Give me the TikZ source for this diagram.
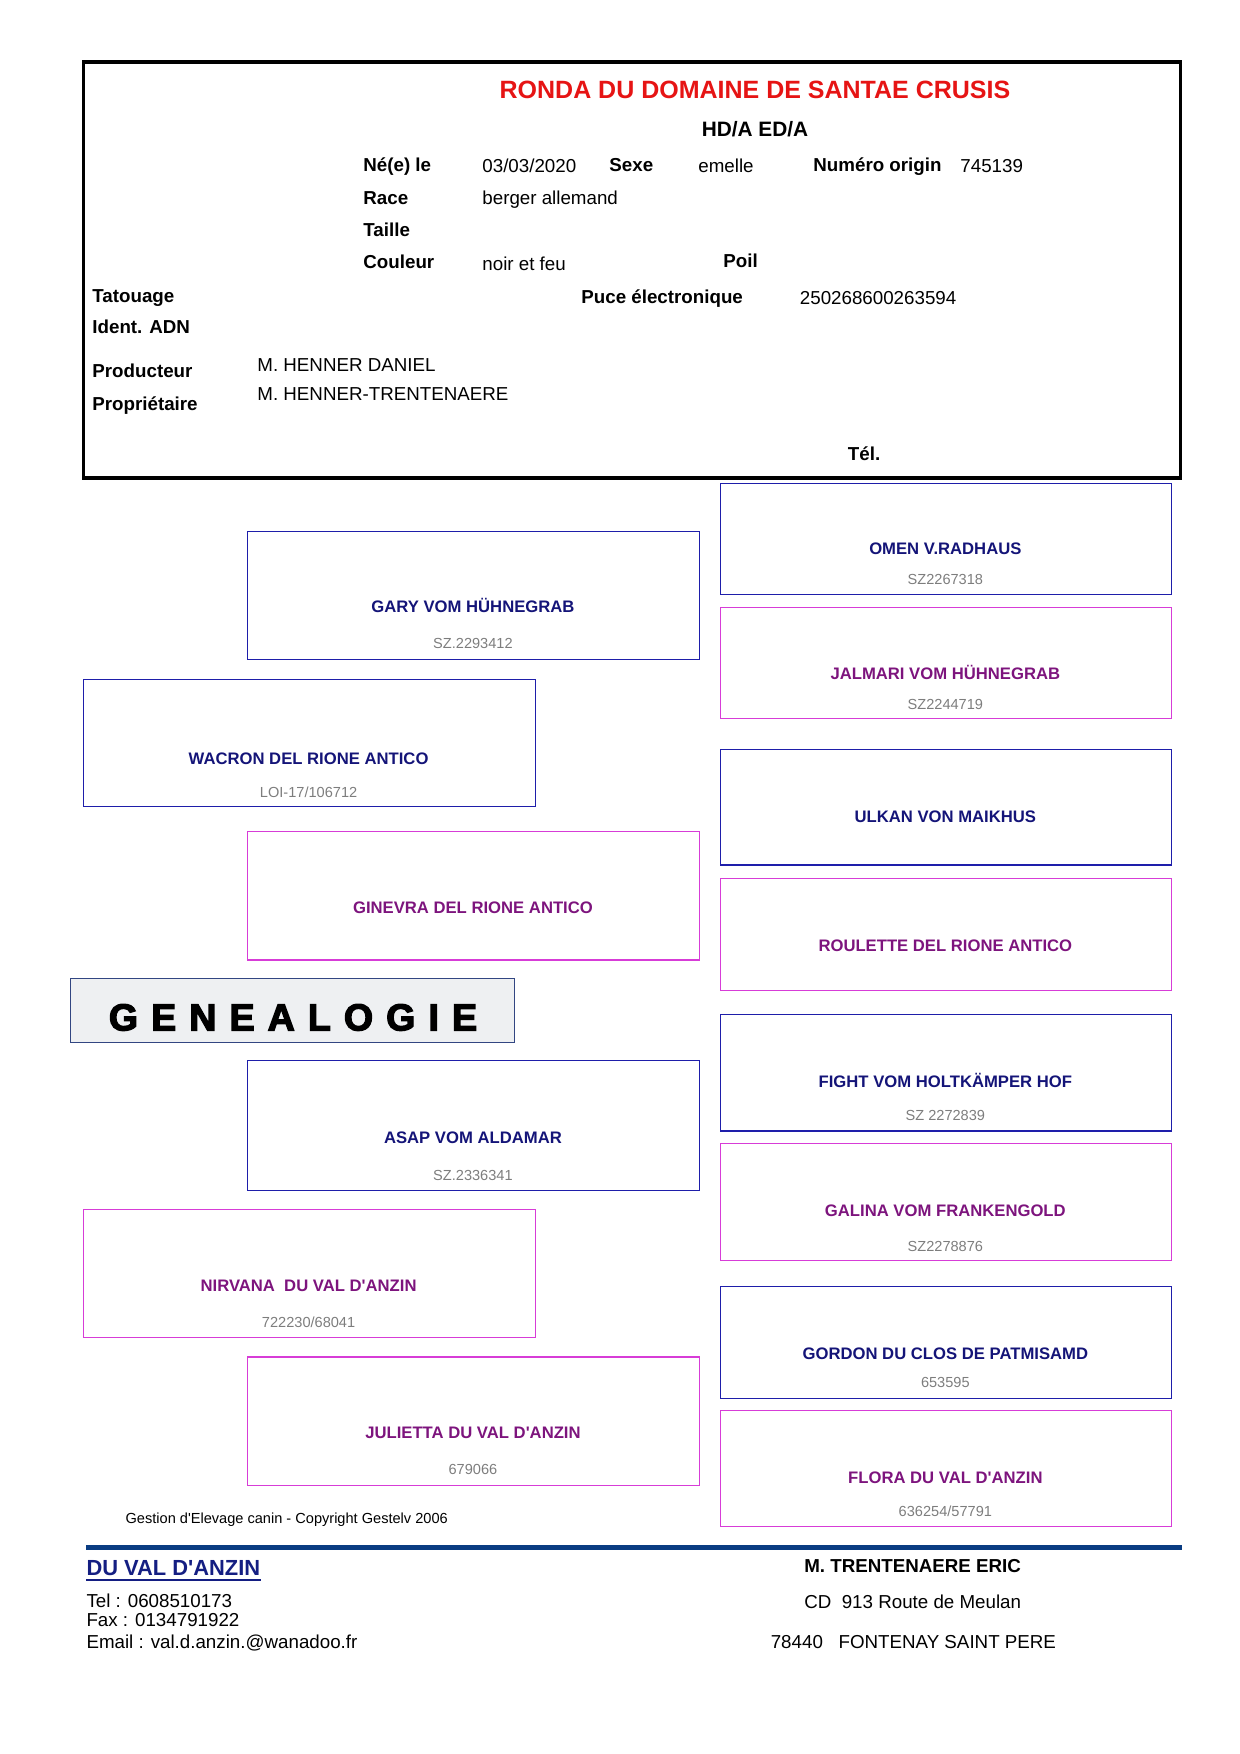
\documentclass[tikz,border=0pt]{standalone}
\usepackage{fontspec}
\setmainfont{Liberation Sans}[Ligatures=TeXOff]
\newfontfamily\heavyfont{Liberation Sans}[Ligatures=TeXOff,BoldFeatures={FakeBold=3.5}]
\definecolor{navytxt}{RGB}{20,20,120}
\definecolor{purptxt}{RGB}{125,20,125}
\definecolor{blueedge}{RGB}{30,30,170}
\definecolor{magedge}{RGB}{215,60,215}
\definecolor{regtxt}{RGB}{125,125,125}
\definecolor{titlered}{RGB}{230,20,20}
\definecolor{barblue}{RGB}{10,60,130}
\definecolor{genfill}{RGB}{238,240,242}
\definecolor{genedge}{RGB}{50,70,130}
\definecolor{linkblue}{RGB}{20,30,130}
\newcommand\spl[1]{#1\kern6.3pt}
\newcommand\pedbox[6]{\node[#6box, minimum width={(#4-#2)*0.48pt}, minimum height={(#5-#3)*0.48pt}] (#1) at (#2,#3) {};}
\tikzset{
  sirebox/.style={draw=blueedge, line width=0.6pt, inner sep=0pt, anchor=north west},
  dambox/.style={draw=magedge, line width=0.6pt, inner sep=0pt, anchor=north west},
  lab/.style={anchor=west, inner sep=0pt, font=\fontsize{9}{10}\selectfont\bfseries, text height=6.45pt, text depth=0pt},
  val/.style={anchor=west, inner sep=0pt, font=\fontsize{9}{10}\selectfont, text height=6.45pt, text depth=0pt},
  sirename/.style={inner sep=0pt, font=\fontsize{8}{9}\selectfont\bfseries, text=navytxt, text height=5.73pt, text depth=0pt},
  damname/.style={inner sep=0pt, font=\fontsize{8}{9}\selectfont\bfseries, text=purptxt, text height=5.73pt, text depth=0pt},
  regno/.style={inner sep=0pt, font=\fontsize{7}{8}\selectfont, text=regtxt, text height=5.0pt, text depth=0pt},
}
\begin{document}
\begin{tikzpicture}[x=0.48pt,y=-0.48pt]
\useasboundingbox (0,0) rectangle (1240,1754);
% header
\node[draw, line width=1.6pt, anchor=north west, inner sep=0pt,
  minimum width={(1178.5-81.6)*0.48pt}, minimum height={(476.3-60.4)*0.48pt}] (hdr) at (81.6,60.4) {};
\node[inner sep=0pt, font=\fontsize{12}{14}\selectfont\bfseries, text=titlered, text height=8.6pt, text depth=0pt] (title) at (755,89.5) {RONDA DU DOMAINE DE SANTAE CRUSIS};
\node[inner sep=0pt, font=\fontsize{10}{12}\selectfont\bfseries, text height=7.16pt, text depth=0pt] (hd) at (755,129) {HD/A ED/A};
\node[lab] (nel) at (363,164.5) {Né(e) le};
\node[val] (nev) at (482,165.5) {03/03/2020};
\node[lab] (sexl) at (609,164.5) {Sexe};
\node[val] (sexv) at (698,165.5) {emelle};
\node[lab] (numl) at (813,164.5) {Numéro origin};
\node[val] (numv) at (960,165.5) {745139};
\node[lab] (racel) at (363,197.5) {Race};
\node[val] (racev) at (482,197.5) {berger allemand};
\node[lab] (taillel) at (363,229.5) {Taille};
\node[lab] (coull) at (363,262) {Couleur};
\node[val] (coulv) at (482,263.5) {noir et feu};
\node[lab] (poill) at (723,261) {Poil};
\node[lab] (tatl) at (92,295.5) {Tatouage};
\node[lab] (pucel) at (581,296.5) {Puce électronique};
\node[val] (pucev) at (799.5,297.5) {250268600263594};
\node[lab] (adnl) at (92,327) {Ident. ADN};
\node[lab] (prodl) at (92,370.5) {Producteur};
\node[val] (prodv) at (257,365) {M. HENNER DANIEL};
\node[lab] (propl) at (92,404) {Propriétaire};
\node[val] (propv) at (257,394) {M. HENNER-TRENTENAERE};
\node[lab] (tell) at (847.5,453.5) {Tél.};
% generation 1
\pedbox{wacron}{82.7}{678.7}{534.5}{806.1}{sire}
\node[sirename] (wacront) at (308.6,758.6) {WACRON DEL RIONE ANTICO};
\node[regno] (wacronr) at (308.6,792.1) {LOI-17/106712};
\pedbox{nirvana}{82.7}{1208.7}{534.5}{1337.2}{dam}
\node[damname] (nirvanat) at (308.6,1285.2) {NIRVANA\ \ DU VAL D'ANZIN};
\node[regno] (nirvanar) at (308.6,1322.1) {722230/68041};
% generation 2
\pedbox{gary}{247.1}{531.1}{698.8}{658.6}{sire}
\node[sirename] (garyt) at (472.95,606.5) {GARY VOM HÜHNEGRAB};
\node[regno] (garyr) at (472.95,643.4) {SZ.2293412};
\pedbox{ginevra}{247.1}{830.7}{698.8}{959.3}{dam}
\node[damname] (ginevrat) at (472.95,907.3) {GINEVRA DEL RIONE ANTICO};
\pedbox{asap}{247.1}{1060.0}{698.8}{1189.7}{sire}
\node[sirename] (asapt) at (472.95,1137.6) {ASAP VOM ALDAMAR};
\node[regno] (asapr) at (472.95,1175.6) {SZ.2336341};
\pedbox{julietta}{247.1}{1356.3}{698.8}{1484.8}{dam}
\node[damname] (juliettat) at (472.95,1432.8) {JULIETTA DU VAL D'ANZIN};
\node[regno] (juliettar) at (472.95,1469.7) {679066};
% generation 3
\pedbox{omen}{720.1}{483.0}{1170.6}{593.7}{sire}
\node[sirename] (oment) at (945.35,548.4) {OMEN V.RADHAUS};
\node[regno] (omenr) at (945.35,579.7) {SZ2267318};
\pedbox{jalmari}{720.1}{607.1}{1170.6}{717.8}{dam}
\node[damname] (jalmarit) at (945.35,673.6) {JALMARI VOM HÜHNEGRAB};
\node[regno] (jalmarir) at (945.35,703.8) {SZ2244719};
\pedbox{ulkan}{720.1}{749.1}{1170.6}{864.3}{sire}
\node[sirename] (ulkant) at (945.35,816.7) {ULKAN VON MAIKHUS};
\pedbox{roulette}{720.1}{877.7}{1170.6}{989.5}{dam}
\node[damname] (roulettet) at (945.35,945.3) {ROULETTE DEL RIONE ANTICO};
\pedbox{fight}{720.1}{1014.1}{1170.6}{1130.4}{sire}
\node[sirename] (fightt) at (945.35,1081.7) {FIGHT VOM HOLTKÄMPER HOF};
\node[regno] (fightr) at (945.35,1115.2) {SZ 2272839};
\pedbox{galina}{720.1}{1142.7}{1170.6}{1260.1}{dam}
\node[damname] (galinat) at (945.35,1210.3) {GALINA VOM FRANKENGOLD};
\node[regno] (galinar) at (945.35,1246.1) {SZ2278876};
\pedbox{gordon}{720.1}{1285.8}{1170.6}{1397.6}{sire}
\node[sirename] (gordont) at (945.35,1353.4) {GORDON DU CLOS DE PATMISAMD};
\node[regno] (gordonr) at (945.35,1382.5) {653595};
\pedbox{flora}{720.1}{1409.9}{1170.6}{1526.2}{dam}
\node[damname] (florat) at (945.35,1477.5) {FLORA DU VAL D'ANZIN};
\node[regno] (florar) at (945.35,1511.1) {636254/57791};
% genealogie banner
\node[draw=genedge, fill=genfill, line width=0.5pt, anchor=north west, inner sep=0pt,
  minimum width={(514.3-70.4)*0.48pt}, minimum height={(1042.1-978.3)*0.48pt}] (genbox) at (70.4,978.3) {};
\node[inner sep=0pt, font=\heavyfont\bfseries\fontsize{18}{20}\selectfont, text height=12.9pt, text depth=0pt] (gent) at (293,1016.9)
  {\spl{G}\spl{E}\spl{N}\spl{E}\spl{A}\spl{L}\spl{O}\spl{G}\spl{I}E};
% footer
\node[anchor=west, inner sep=0pt, font=\fontsize{7}{8}\selectfont, text height=5pt, text depth=0pt] (copy) at (125.2,1517.8) {Gestion d'Elevage canin - Copyright Gestelv 2006};
\coordinate (barL) at (86.1,1547.5);
\coordinate (barR) at (1181.8,1547.5);
\draw[line width=2.7pt, barblue] (barL) -- (barR);
\node[anchor=west, inner sep=0pt, font=\fontsize{10.5}{12}\selectfont\bfseries, text=linkblue, text height=7.5pt, text depth=0pt] (duval) at (86.1,1568.1) {DU VAL D'ANZIN};
\draw[line width=1pt, linkblue] ([yshift=-1.9pt]duval.south west) -- ([yshift=-1.9pt]duval.south east);
\node[val] (tel) at (86.1,1600.5) {Tel : 0608510173};
\node[val] (fax) at (86.1,1619.5) {Fax : 0134791922};
\node[val] (email) at (86.1,1641.9) {Email : val.d.anzin.@wanadoo.fr};
\node[lab] (owner) at (803.9,1565.8) {M. TRENTENAERE ERIC};
\node[val] (addr) at (803.9,1601.6) {CD\ \ 913 Route de Meulan};
\node[val] (city) at (770.4,1641.9) {78440\ \ \ FONTENAY SAINT PERE};
\end{tikzpicture}
\end{document}
